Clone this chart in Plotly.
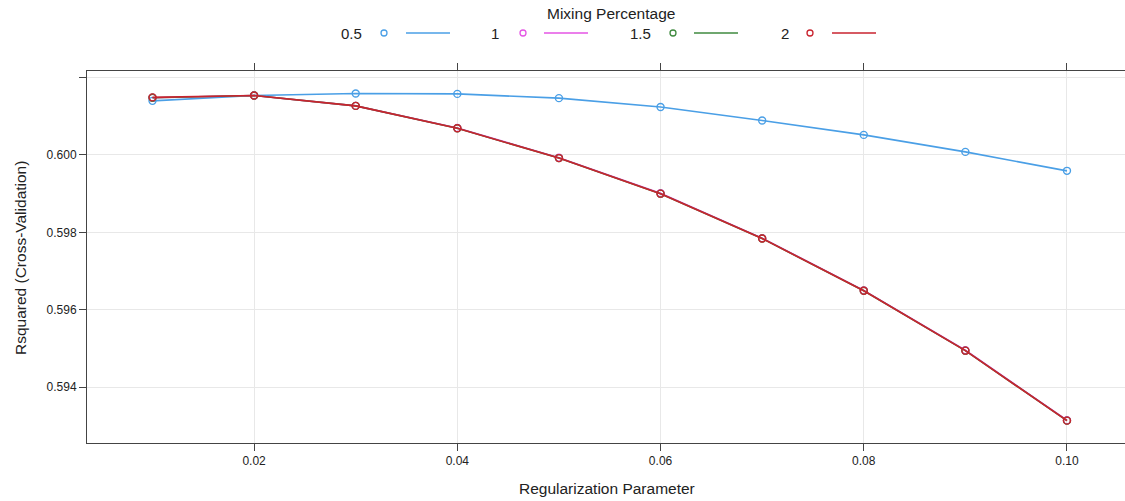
import plotly.graph_objects as go

# Cross-validated R-squared by regularization parameter, one series per mixing percentage
reg_param = [0.01, 0.02, 0.03, 0.04, 0.05, 0.06, 0.07, 0.08, 0.09, 0.10]
mix_labels = ["0.5", "1", "1.5", "2"]

rsq_05 = [0.60140, 0.60154, 0.60159, 0.60158, 0.60147, 0.60124, 0.60089, 0.60052, 0.60008, 0.59959]
rsq_10 = [0.60148, 0.60154, 0.60127, 0.60070, 0.59993, 0.59901, 0.59785, 0.59650, 0.59495, 0.59314]
rsq_15 = [0.60148, 0.60154, 0.60127, 0.60069, 0.59992, 0.59900, 0.59784, 0.59649, 0.59494, 0.59313]
rsq_20 = [0.60149, 0.60154, 0.60127, 0.60069, 0.59992, 0.59900, 0.59784, 0.59649, 0.59494, 0.59313]

x_ticks = [0.02, 0.04, 0.06, 0.08, 0.10]
y_ticks = [0.594, 0.596, 0.598, 0.600, 0.602]
y_tick_text = ["0.594", "0.596", "0.598", "0.600", ""]

colors = ["#4a9fe6", "#e455e4", "#3f8a3f", "#c9232f"]
series = [rsq_05, rsq_10, rsq_15, rsq_20]

W, H = 1125, 501
L, R, T, B = 87, 0, 71, 58
FONT = "Liberation Sans, Arial, sans-serif"
TEXT = "#222222"

fig = go.Figure()
for name, vals, col in zip(mix_labels, series, colors):
    fig.add_trace(go.Scatter(
        x=reg_param, y=vals, name=name, mode="lines+markers",
        line=dict(color=col, width=1.6),
        marker=dict(symbol="circle-open", size=7, color=col, line=dict(width=1.4, color=col)),
        showlegend=False,
    ))

axis_common = dict(
    showgrid=True, gridcolor="#e8e8e8", gridwidth=1,
    showline=True, linecolor="#444444", linewidth=1,
    ticks="outside", ticklen=7, tickcolor="#444444", tickwidth=1,
    tickfont=dict(family=FONT, size=12, color=TEXT),
    zeroline=False,
)
fig.update_xaxes(range=[0.003555, 0.10571], tickvals=x_ticks, tickformat=".2f",
                 mirror="ticks", **axis_common)
fig.update_yaxes(range=[0.592552, 0.602172], tickvals=y_ticks, ticktext=y_tick_text,
                 mirror=False, **axis_common)

# pixel -> paper helpers for title and key placement
pw, ph = W - L - R, H - T - B
fx = lambda px: (px - L) / pw
fy = lambda py: (H - B - py) / ph

annotations = [
    dict(text="Regularization Parameter", x=fx(607), y=fy(489), xref="paper", yref="paper",
         showarrow=False, font=dict(family=FONT, size=15.5, color=TEXT), xanchor="center", yanchor="middle"),
    dict(text="Rsquared (Cross-Validation)", x=fx(20), y=fy(258), xref="paper", yref="paper",
         showarrow=False, textangle=-90, font=dict(family=FONT, size=15.5, color=TEXT),
         xanchor="center", yanchor="middle"),
    dict(text="Mixing Percentage", x=fx(611), y=fy(14), xref="paper", yref="paper",
         showarrow=False, font=dict(family=FONT, size=15.5, color=TEXT), xanchor="center", yanchor="middle"),
]
shapes = []

# key entries: label, open point, line segment
key_label_right = [364, 501, 653, 791]
key_point_x = [384, 523, 673, 810]
key_line = [(406, 450), (544, 588), (694, 738), (832, 876)]
key_y = 33
for lab, lx, cx, (a, b), col in zip(mix_labels, key_label_right, key_point_x, key_line, colors):
    annotations.append(dict(text=lab, x=fx(lx), y=fy(key_y), xref="paper", yref="paper",
                            showarrow=False, font=dict(family=FONT, size=15, color=TEXT),
                            xanchor="right", yanchor="middle"))
    shapes.append(dict(type="circle", xref="paper", yref="paper",
                       xsizemode="pixel", ysizemode="pixel",
                       xanchor=fx(cx), yanchor=fy(key_y), x0=-3, x1=3, y0=-3, y1=3,
                       line=dict(color=col, width=1.3)))
    shapes.append(dict(type="line", xref="paper", yref="paper",
                       x0=fx(a), x1=fx(b), y0=fy(key_y), y1=fy(key_y),
                       line=dict(color=col, width=1.5)))

fig.update_layout(
    width=W, height=H,
    margin=dict(l=L, r=R, t=T, b=B),
    paper_bgcolor="white", plot_bgcolor="white",
    annotations=annotations, shapes=shapes,
    font=dict(family=FONT, color=TEXT),
)

fig.write_html("out.html")
